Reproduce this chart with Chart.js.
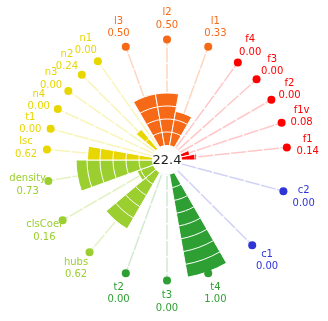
<!DOCTYPE html>
<html>
<head>
<meta charset="utf-8">
<script src="https://cdn.jsdelivr.net/npm/chart.js@4/dist/chart.umd.min.js"></script>
<style>
  html, body { margin: 0; padding: 0; background: #fff; }
  #wrap { width: 328px; height: 321px; position: relative; }
</style>
</head>
<body>
<div id="wrap"><canvas id="canvas"></canvas></div>
<script>
// metrics, clockwise starting at l3
const labels = ['l3', 'l2', 'l1', 'f4', 'f3', 'f2', 'f1v', 'f1', 'c2', 'c1', 't4', 't3', 't2',
    'hubs', 'clsCoef', 'density', 'lsc', 't1', 'n4', 'n3', 'n2', 'n1'];
const values = [0.50, 0.50, 0.33, 0.00, 0.00, 0.00, 0.08, 0.14, 0.00, 0.00, 1.00, 0.00, 0.00,
    0.62, 0.16, 0.73, 0.62, 0.00, 0.00, 0.00, 0.24, 0.00];
const groups = ['l', 'l', 'l', 'f', 'f', 'f', 'f', 'f', 'c', 'c', 't', 't', 't',
    'net', 'net', 'net', 'n', 'n', 'n', 'n', 'n', 'n'];
const score = '22.4';

const groupColors = {
    l: '#f66a17',
    f: '#ff0000',
    c: '#2f34d6',
    t: '#2e9f32',
    net: '#9bcf2f',
    n: '#e8d600'
};
const spokeColors = {
    l: 'rgba(246,106,23,0.28)',
    f: 'rgba(255,0,0,0.22)',
    c: 'rgba(47,52,214,0.22)',
    t: 'rgba(46,159,50,0.22)',
    net: 'rgba(155,207,47,0.28)',
    n: 'rgba(232,214,0,0.28)'
};

const groupNames = [...new Set(groups)];
const spans = groups.map(g => 360 / groupNames.length / groups.filter(x => x === g).length);
const colors = groups.map(g => groupColors[g]);

// stacked look: one dataset per 0.125 step, smallest drawn on top
const step = 0.125;
const datasets = [];
for (let k = 1; k <= 8; k++) {
    datasets.push({
        data: values.map(v => Math.min(v, k * step)),
        backgroundColor: colors,
        borderColor: '#ffffff',
        borderWidth: 1,
        angle: ctx => spans[ctx.dataIndex]
    });
}

const decorations = {
    id: 'decorations',
    beforeDatasetsDraw(chart) {
        const ctx = chart.ctx;
        const scale = chart.scales.r;
        const arcs = chart.getDatasetMeta(0).data;
        const r0 = scale.getDistanceFromCenterForValue(0);
        const rDot = scale.getDistanceFromCenterForValue(1) + 1.5;
        ctx.save();
        ctx.lineWidth = 1.5;
        ctx.setLineDash([15, 1.5]);
        arcs.forEach((arc, i) => {
            const a = (arc.startAngle + arc.endAngle) / 2;
            ctx.strokeStyle = spokeColors[groups[i]];
            ctx.beginPath();
            ctx.moveTo(scale.xCenter + Math.cos(a) * r0, scale.yCenter + Math.sin(a) * r0);
            ctx.lineTo(scale.xCenter + Math.cos(a) * rDot, scale.yCenter + Math.sin(a) * rDot);
            ctx.stroke();
        });
        ctx.restore();
    },
    afterDatasetsDraw(chart) {
        const ctx = chart.ctx;
        const scale = chart.scales.r;
        const arcs = chart.getDatasetMeta(0).data;
        const r0 = scale.getDistanceFromCenterForValue(0);
        const rDot = scale.getDistanceFromCenterForValue(1) + 1.5;
        const rText = rDot + 21;
        ctx.save();
        // hole in the middle with the score
        ctx.fillStyle = '#ffffff';
        ctx.beginPath();
        ctx.arc(scale.xCenter, scale.yCenter, r0, 0, Math.PI * 2);
        ctx.fill();
        ctx.fillStyle = '#222222';
        ctx.font = '13px "DejaVu Sans"';
        ctx.textAlign = 'center';
        ctx.textBaseline = 'middle';
        ctx.fillText(score, scale.xCenter, scale.yCenter + 1);

        // labels
        ctx.font = '10px "DejaVu Sans"';
        arcs.forEach((arc, i) => {
            const a = (arc.startAngle + arc.endAngle) / 2;
            const x = scale.xCenter + Math.cos(a) * rText;
            const y = scale.yCenter + Math.sin(a) * rText;
            ctx.fillStyle = groupColors[groups[i]];
            ctx.fillText(labels[i], x, y - 6);
            ctx.fillText(values[i].toFixed(2), x, y + 6.5);
        });
        // dots
        arcs.forEach((arc, i) => {
            const a = (arc.startAngle + arc.endAngle) / 2;
            ctx.fillStyle = groupColors[groups[i]];
            ctx.beginPath();
            ctx.arc(scale.xCenter + Math.cos(a) * rDot, scale.yCenter + Math.sin(a) * rDot, 4, 0, Math.PI * 2);
            ctx.fill();
        });
        ctx.restore();
    }
};

const chart = new Chart(document.getElementById('canvas'), {
    type: 'polarArea',
    data: {
        labels: labels,
        datasets: datasets
    },
    options: {
        responsive: true,
        maintainAspectRatio: false,
        animation: false,
        layout: {
            padding: { left: 48, right: 42, top: 41, bottom: 42 }
        },
        plugins: {
            legend: { display: false },
            tooltip: { enabled: false }
        },
        scales: {
            r: {
                min: -0.1442,
                max: 1,
                startAngle: -30,
                grid: { display: false },
                angleLines: { display: false },
                ticks: { display: false },
                pointLabels: { display: false }
            }
        }
    },
    plugins: [decorations]
});
</script>
</body>
</html>
